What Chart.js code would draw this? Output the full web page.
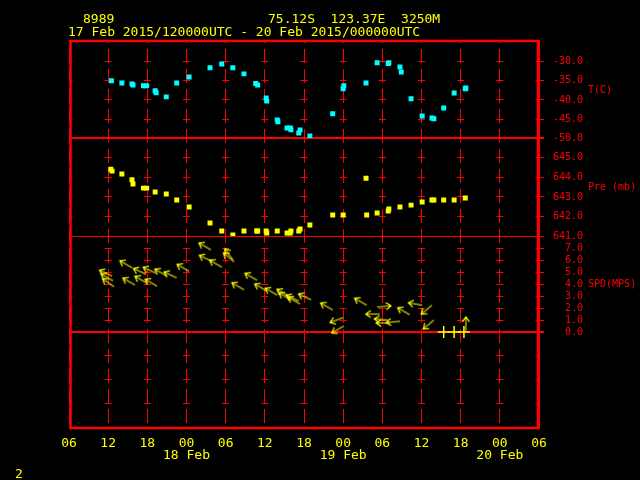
<!DOCTYPE html>
<html>
<head>
<meta charset="utf-8">
<script src="https://cdn.jsdelivr.net/npm/chart.js@4"></script>
<style>
  html, body { margin: 0; padding: 0; background: #000; }
  #wrap { position: relative; width: 640px; height: 480px; overflow: hidden; background: #000; }
  canvas { position: absolute; left: 0; top: 0; }
  .txt { position: absolute; font: 13px "DejaVu Sans Mono", monospace; line-height: 13px; color: #ffff00; white-space: pre; }
</style>
</head>
<body>
<div id="wrap">
  <canvas id="chart" width="640" height="480"></canvas>
  <div class="txt" style="left:83px; top:12px">8989</div>
  <div class="txt" style="left:268px; top:12px">75.12S  123.37E  3250M</div>
  <div class="txt" style="left:68px; top:25px">17 Feb 2015/120000UTC - 20 Feb 2015/000000UTC</div>
  <div class="txt" style="left:15px; top:467px">2</div>
</div>
<script>
const RED = "#ff0000";
const YELLOW = "#ffff00";
const CYAN = "#00ffff";
const FONT = '"DejaVu Sans Mono", monospace';

// x axis: hours since 17 Feb 06 UTC
const X_TICKS = [0, 6, 12, 18, 24, 30, 36, 42, 48, 54, 60, 66, 72];
const HOUR_LABELS = ["06", "12", "18", "00", "06", "12", "18", "00", "06", "12", "18", "00", "06"];
const DATE_LABELS = ["", "", "", "18 Feb", "", "", "", "19 Feb", "", "", "", "20 Feb", ""];

const T_TICKS = [-30, -35, -40, -45, -50];
const P_TICKS = [645, 644, 643, 642, 641];
const W_TICKS = [7, 6, 5, 4, 3, 2, 1, 0, -2, -4, -6];

// temperature (C)
const T_HOURS = [6.5, 8.1, 9.65, 9.8, 11.4, 11.9, 13.2, 13.35, 14.9, 16.5, 18.4, 21.6, 23.4, 25.1, 26.8,
  28.6, 28.9, 30.2, 30.3, 31.9, 32.0, 33.4, 33.9, 34.0, 35.2, 35.4, 36.9, 40.4, 42.0, 42.1, 45.5,
  47.2, 48.9, 49.0, 50.7, 50.9, 52.4, 54.1, 55.6, 55.9, 57.4, 59.0, 60.7, 60.8];
const T_VALS = [-35.0, -35.6, -35.8, -36.1, -36.3, -36.3, -37.6, -38.1, -39.2, -35.6, -34.0, -31.6, -30.6, -31.6, -33.2,
  -35.7, -36.1, -39.5, -40.3, -45.2, -45.7, -47.3, -47.3, -47.8, -48.6, -47.8, -49.4, -43.6, -37.1, -36.3, -35.6,
  -30.3, -30.5, -30.3, -31.4, -32.7, -39.7, -44.2, -44.7, -44.9, -42.1, -38.2, -37.1, -36.9];

// pressure (mb)
const P_HOURS = [6.4, 6.6, 8.1, 9.65, 9.8, 11.4, 11.9, 13.2, 14.9, 16.5, 18.4, 21.6, 23.4, 25.1, 26.8,
  28.75, 28.9, 30.2, 30.3, 31.9, 33.4, 33.9, 34.0, 35.2, 35.4, 36.9, 40.4, 42.0, 45.5, 45.6,
  47.2, 48.9, 49.0, 50.7, 52.4, 54.1, 55.6, 55.9, 57.4, 59.0, 60.7];
const P_VALS = [644.42, 644.32, 644.17, 643.88, 643.66, 643.45, 643.45, 643.25, 643.15, 642.84, 642.48, 641.67, 641.26, 641.05, 641.26,
  641.26, 641.26, 641.26, 641.15, 641.26, 641.15, 641.15, 641.26, 641.26, 641.36, 641.56, 642.07, 642.07, 643.96, 642.07,
  642.18, 642.28, 642.38, 642.48, 642.58, 642.74, 642.84, 642.84, 642.84, 642.84, 642.94];

// wind speed (m/s) and direction the arrow points (deg, 0 = up)
const W_HOURS = [6.6, 6.75, 6.9, 9.65, 10.1, 11.8, 11.95, 13.3, 13.5, 15.0, 16.5, 18.4, 21.75, 21.9, 23.4,
  25.1, 25.3, 26.8, 28.8, 30.3, 31.9, 33.7, 34.0, 35.2, 35.4, 37.1, 40.4, 42.0, 42.1, 45.6,
  47.2, 47.6, 48.9, 49.2, 50.7, 52.2, 54.1, 55.6, 55.9, 57.4, 59.0, 60.5, 60.8];
const W_SPD = [4.7, 4.3, 3.8, 5.4, 3.95, 4.85, 4.1, 4.95, 3.85, 4.7, 4.55, 5.1, 6.9, 5.95, 5.45,
  6.05, 5.9, 3.55, 4.35, 3.45, 3.1, 3.0, 2.7, 2.6, 2.35, 2.7, 1.85, 1.2, 0.5, 2.25,
  2.1, 1.5, 1.0, 0.75, 0.9, 1.45, 2.25, 2.25, 1.0, 0, 0, 0, 0.1];
const W_DIR = [295, 300, 305, 300, 300, 295, 300, 295, 300, 300, 295, 300, 300, 295, 300,
  325, 310, 300, 300, 300, 300, 300, 300, 295, 300, 295, 300, 250, 240, 300,
  85, 270, 275, 270, 265, 300, 280, 230, 230, 0, 0, 0, 0];

const AXIS_TITLES = [
  { axis: "yT", text: "T(C)", at: -37.5 },
  { axis: "yP", text: "Pre (mb)", at: 643.5 },
  { axis: "yW", text: "SPD(MPS)", at: 4 },
];

function makeArrow() {
  const L = 14;
  const cv = document.createElement("canvas");
  cv.width = cv.height = 2 * L + 2;
  const g = cv.getContext("2d");
  const c = L + 1;
  g.strokeStyle = YELLOW;
  g.lineWidth = 1.2;
  g.beginPath();
  g.moveTo(c, c);
  g.lineTo(c + L, c);
  g.moveTo(c + L - 5, c - 3.5);
  g.lineTo(c + L, c);
  g.lineTo(c + L - 5, c + 3.5);
  g.stroke();
  return cv;
}
const arrow = makeArrow();

const toPoints = (xs, ys) => xs.map((x, i) => ({ x, y: ys[i] }));

// one of the three stacked right-hand axes; baseValue gets a solid line
function rightAxis(weight, min, max, ticks, baseValue, baseWidth, fmt) {
  return {
    type: "linear",
    position: "right",
    stack: "right",
    stackWeight: weight,
    min,
    max,
    afterBuildTicks: (s) => { s.ticks = ticks.map((v) => ({ value: v })); },
    afterFit: (s) => { s.width = 101; },
    ticks: {
      color: RED,
      font: { family: FONT, size: 10 },
      padding: 9,
      autoSkip: false,
      callback: fmt,
    },
    grid: {
      color: RED,
      lineWidth: (c) => (c.tick && c.tick.value === baseValue ? baseWidth : 1),
      tickLength: 5,
      tickColor: (c) => (c.tick && c.tick.value < 0 && baseValue === 0 ? "rgba(0,0,0,0)" : RED),
    },
    border: {
      color: RED,
      dash: (c) => (c.tick && c.tick.value === baseValue ? [] : [7, 32.17]),
      dashOffset: 3.5,
    },
  };
}

const frame = {
  id: "frame",
  beforeDatasetsDraw(chart) {
    const a = chart.chartArea;
    const c = chart.ctx;
    c.save();
    c.strokeStyle = RED;
    c.lineWidth = 2.5;
    c.strokeRect(a.left + 1.5, a.top + 1, a.width - 2.5, a.height - 1);
    c.restore();
  },
};

const titles = {
  id: "titles",
  afterDraw(chart) {
    const c = chart.ctx;
    c.save();
    c.fillStyle = RED;
    c.font = "10px " + FONT;
    c.textBaseline = "middle";
    c.textAlign = "left";
    AXIS_TITLES.forEach((t) => {
      c.fillText(t.text, chart.chartArea.right + 49, chart.scales[t.axis].getPixelForValue(t.at));
    });
    c.restore();
  },
};

new Chart(document.getElementById("chart"), {
  type: "scatter",
  data: {
    datasets: [
      {
        data: toPoints(T_HOURS, T_VALS),
        yAxisID: "yT",
        pointStyle: "rect",
        pointRadius: 3.5,
        borderWidth: 0,
        backgroundColor: CYAN,
        borderColor: CYAN,
      },
      {
        data: toPoints(P_HOURS, P_VALS),
        yAxisID: "yP",
        pointStyle: "rect",
        pointRadius: 3.5,
        borderWidth: 0,
        backgroundColor: YELLOW,
        borderColor: YELLOW,
      },
      {
        data: toPoints(W_HOURS, W_SPD),
        yAxisID: "yW",
        pointStyle: (c) => (W_SPD[c.dataIndex] === 0 ? "cross" : arrow),
        rotation: (c) => (W_SPD[c.dataIndex] === 0 ? 0 : W_DIR[c.dataIndex] - 90),
        pointRadius: 6,
        borderWidth: 1.5,
        borderColor: YELLOW,
        backgroundColor: YELLOW,
      },
    ],
  },
  options: {
    responsive: false,
    animation: false,
    devicePixelRatio: 1,
    events: [],
    layout: { padding: { left: 69, top: 40, right: 0, bottom: 0 } },
    plugins: { legend: { display: false }, tooltip: { enabled: false } },
    scales: {
      x: {
        type: "linear",
        min: 0,
        max: 72,
        afterBuildTicks: (s) => { s.ticks = X_TICKS.map((v) => ({ value: v })); },
        afterFit: (s) => { s.height = 52; },
        ticks: {
          color: YELLOW,
          font: { family: FONT, size: 13, lineHeight: "12.5px" },
          padding: 9,
          autoSkip: false,
          maxRotation: 0,
          callback: (v, i) => [HOUR_LABELS[i], DATE_LABELS[i]],
        },
        grid: { color: RED, lineWidth: 1, drawTicks: false },
        border: { color: RED, dash: [14, 6], dashOffset: 11 },
      },
      yT: rightAxis(98.3, -50, -24.36, T_TICKS, -50, 2, (v) => v.toFixed(1)),
      yP: rightAxis(97.7, 641, 646, P_TICKS, 641, 1, (v) => v.toFixed(1)),
      yW: rightAxis(192, -8.07, 8.07, W_TICKS, 0, 2, (v) => (v >= 0 ? "  " + v.toFixed(1) : "")),
    },
  },
  plugins: [frame, titles],
});
</script>
</body>
</html>
